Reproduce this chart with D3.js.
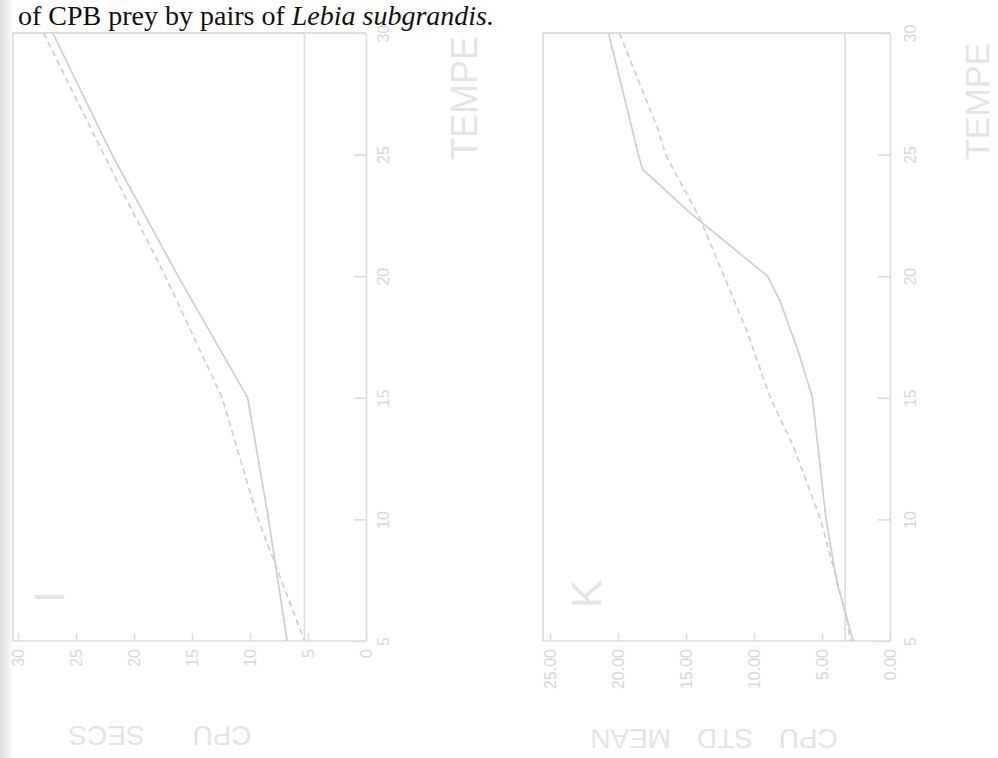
<!DOCTYPE html>
<meta charset="utf-8">
<style>
body { margin: 0; background: #fff; }
svg { display: block; }
.axis path, .axis line { stroke: #dcdcdc; stroke-width: 1.6; }
.axis text { fill: #d8d8d8; font: 16px "Liberation Sans", Arial, sans-serif; }
.frame { stroke: #dedede; stroke-width: 1.8; fill: none; }
.curve { fill: none; stroke: #cfcfcf; stroke-width: 1.7; }
.faint { fill: #e4e4e4; font-family: "Liberation Sans", Arial, sans-serif; }
</style>
<body>
<script src="https://cdnjs.cloudflare.com/ajax/libs/d3/7.8.5/d3.min.js"></script>
<script>

// temperature runs down the right side of both (rotated) panels
var tempTicks = [5, 10, 15, 20, 25, 30];
var secsTicks = [0, 5, 10, 15, 20, 25, 30];
var meanTicks = [0, 5, 10, 15, 20, 25];

// panel I : CPU SECS
var leftSolidTemp = [30, 25, 20, 15, 10, 5];
var leftSolidVal  = [27.0, 21.9, 16.2, 10.2, 8.4, 6.8];
var leftDashTemp  = [30, 25, 20, 15, 10, 5];
var leftDashVal   = [27.8, 22.6, 17.3, 12.4, 9.3, 5.3];
var leftRefVal = 5.3;

// panel K : CPU STD MEAN
var rightSolidTemp = [30, 25, 24.4, 22.6, 20, 19, 17, 15, 10, 7.4, 5];
var rightSolidVal  = [20.7, 18.5, 18.2, 14.7, 9.0, 8.1, 6.8, 5.7, 4.7, 3.9, 2.7];
var rightDashTemp  = [30, 26.1, 25, 22.4, 20, 17.7, 15, 13, 10, 6, 5];
var rightDashVal   = [19.9, 17.1, 16.5, 14.0, 12.2, 10.5, 8.8, 7.1, 5.1, 3.2, 2.9];
var rightRefVal = 3.3;

var W = 998, H = 758;

var svg = d3.select("body").append("svg")
    .attr("width", W)
    .attr("height", H);

var defs = svg.append("defs");
var grad = defs.append("linearGradient").attr("id", "edge");
grad.append("stop").attr("offset", "0%").attr("stop-color", "#dcdcdc");
grad.append("stop").attr("offset", "100%").attr("stop-color", "#fff");
svg.append("rect").attr("x", 0).attr("y", 0).attr("width", 14).attr("height", H)
    .attr("fill", "url(#edge)");

// caption line from the page above the figure
var cap = svg.append("text")
    .attr("x", 18)
    .attr("y", 25)
    .style("font", "28px 'Liberation Serif', 'Times New Roman', serif")
    .style("fill", "#111");
cap.append("tspan").text("of CPB prey by pairs of ");
cap.append("tspan").style("font-style", "italic").text("Lebia subgrandis.");

var y = d3.scaleLinear().domain([5, 30]).range([641, 33]);

function zip(t, v) {
    return t.map(function(d, i) { return {t: d, v: v[i]}; });
}

function panel(opt) {
    var x = d3.scaleLinear().domain(opt.domain).range(opt.range);
    var g = svg.append("g");

    // outer frame (left and top edges of the rotated plot)
    g.append("path").attr("class", "frame")
        .attr("d", "M" + opt.left + "," + y(5) + "V" + y(30) + "H" + x(0));

    // reference line
    g.append("line").attr("class", "frame")
        .attr("x1", x(opt.ref)).attr("x2", x(opt.ref))
        .attr("y1", y(30)).attr("y2", y(5));

    var bottom = g.append("g")
        .attr("class", "axis")
        .attr("transform", "translate(0," + y(5) + ")")
        .call(d3.axisBottom(x).tickValues(opt.ticks).tickSize(-8).tickSizeOuter(0)
            .tickFormat(opt.fmt));
    bottom.select(".domain").attr("d", "M" + opt.left + ",0H" + x(0));
    bottom.selectAll("text")
        .attr("y", null).attr("dy", null)
        .attr("text-anchor", "end")
        .attr("dominant-baseline", "central")
        .attr("transform", "translate(0,8) rotate(-90)");

    var right = g.append("g")
        .attr("class", "axis")
        .attr("transform", "translate(" + x(0) + ",0)")
        .call(d3.axisRight(y).tickValues(tempTicks).tickSize(-12).tickSizeOuter(0));
    right.selectAll("text")
        .attr("x", null).attr("dy", null)
        .attr("text-anchor", "middle")
        .attr("dominant-baseline", "central")
        .attr("transform", "translate(" + opt.labelOff + ",0) rotate(-90)");

    var line = d3.line()
        .x(function(d) { return x(d.v); })
        .y(function(d) { return y(d.t); });

    g.append("path").attr("class", "curve")
        .attr("d", line(zip(opt.solidT, opt.solidV)));
    g.append("path").attr("class", "curve")
        .attr("stroke-dasharray", "6,4")
        .attr("d", line(zip(opt.dashT, opt.dashV)));

    // panel letter
    g.append("text").attr("class", "faint")
        .attr("transform", "translate(" + opt.letterAt[0] + "," + opt.letterAt[1] + ") rotate(-90)")
        .attr("text-anchor", "middle")
        .attr("dominant-baseline", "central")
        .style("font-size", "42px")
        .text(opt.letter);

    // axis title, upside down after the page rotation
    g.append("text").attr("class", "faint")
        .attr("transform", "translate(" + opt.titleAt[0] + "," + opt.titleAt[1] + ") rotate(180)")
        .attr("text-anchor", "middle")
        .attr("dominant-baseline", "central")
        .style("font-size", "28px")
        .style("word-spacing", opt.wordSpace)
        .text(opt.title);

    // temperature label
    g.append("text").attr("class", "faint")
        .attr("transform", "translate(" + opt.tempAt + ",160) rotate(-90)")
        .style("font-size", opt.tempSize)
        .text("TEMPE");
}

panel({
    domain: [0, 30], range: [366, 18], left: 13,
    ticks: secsTicks, fmt: d3.format("d"), ref: leftRefVal,
    labelOff: 17,
    solidT: leftSolidTemp, solidV: leftSolidVal,
    dashT: leftDashTemp, dashV: leftDashVal,
    letter: "I", letterAt: [49, 597],
    title: "CPU SECS", titleAt: [160, 735], wordSpace: "40px",
    tempAt: 477, tempSize: "36px"
});

panel({
    domain: [0, 25], range: [890, 550], left: 543,
    ticks: meanTicks, fmt: d3.format(".2f"), ref: rightRefVal,
    labelOff: 20,
    solidT: rightSolidTemp, solidV: rightSolidVal,
    dashT: rightDashTemp, dashV: rightDashVal,
    letter: "K", letterAt: [586, 594],
    title: "CPU STD MEAN", titleAt: [714, 738], wordSpace: "18px",
    tempAt: 989, tempSize: "34px"
});

</script>
